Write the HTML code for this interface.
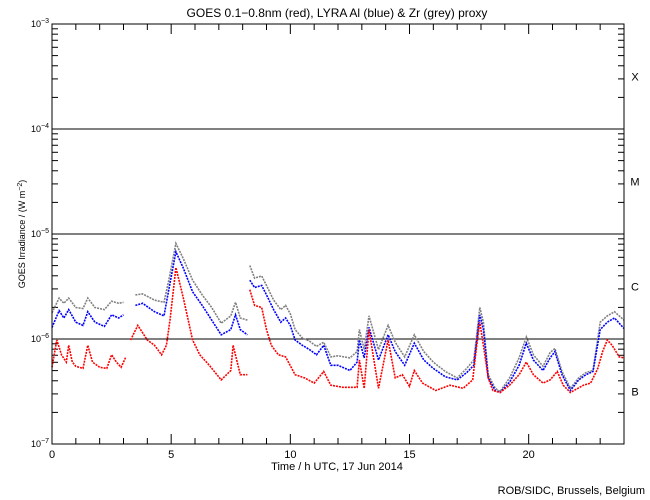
<!DOCTYPE html>
<html><head><meta charset="utf-8"><style>
body{margin:0;background:#fff}
svg{display:block;font-family:"Liberation Sans",sans-serif}
</style></head><body>
<svg id="chart" width="650" height="500" viewBox="0 0 650 500">
<rect width="650" height="500" fill="#fff"/>
<text x="337" y="17" font-size="12" text-anchor="middle">GOES 0.1−0.8nm (red), LYRA Al (blue) &amp; Zr (grey) proxy</text>
<text x="337" y="470" font-size="11" text-anchor="middle">Time / h UTC, 17 Jun 2014</text>
<text transform="translate(25,234) rotate(-90)" font-size="9" text-anchor="middle">GOES Irradiance / (W m<tspan dy="-3" font-size="7">−2</tspan><tspan dy="3">)</tspan></text>
<text x="645" y="494" font-size="11" text-anchor="end">ROB/SIDC, Brussels, Belgium</text>
<g id="axes"></g>
<g id="series"></g>
<rect x="52" y="24" width="572" height="420" fill="none" stroke="#000" stroke-width="1"/>
</svg>
<script>
const xTicks=[0,5,10,15,20];
const yDecades=[-7,-6,-5,-4,-3];
const classLabels=["B","C","M","X"];
const classPos=[-6.5,-5.5,-4.5,-3.5];
const tBG=[0,0.3,0.5,0.7,1.0,1.3,1.5,1.8,2.2,2.5,2.8,3.0,null,3.5,3.8,4.3,4.7,4.9,5.2,5.5,5.9,6.3,6.7,7.1,7.5,7.7,7.9,8.2,null,8.3,8.5,8.8,9.0,9.3,9.6,9.8,10.0,10.2,10.5,10.8,11.1,11.4,11.7,12.0,12.5,12.8,12.9,13.1,13.3,13.7,14.1,14.4,14.8,15.2,15.6,16.0,16.5,17.0,17.4,17.7,17.95,18.1,18.3,18.6,18.8,19.2,19.6,19.9,20.2,20.6,20.9,21.1,21.4,21.75,22.1,22.4,22.7,23.0,23.3,23.6,24.0];
const blueLog=[-5.89,-5.73,-5.80,-5.72,-5.84,-5.87,-5.74,-5.84,-5.88,-5.77,-5.80,-5.77,null,-5.68,-5.66,-5.74,-5.78,-5.53,-5.17,-5.32,-5.55,-5.68,-5.82,-5.96,-5.91,-5.77,-5.91,-5.96,null,-5.44,-5.51,-5.49,-5.58,-5.72,-5.84,-5.80,-5.87,-6.01,-6.06,-6.10,-6.15,-6.06,-6.25,-6.25,-6.30,-6.22,-6.01,-6.18,-5.89,-6.20,-5.96,-6.12,-6.25,-6.04,-6.20,-6.28,-6.36,-6.39,-6.32,-6.25,-5.77,-5.91,-6.37,-6.49,-6.51,-6.41,-6.25,-6.04,-6.20,-6.30,-6.18,-6.12,-6.34,-6.49,-6.39,-6.34,-6.31,-5.91,-5.84,-5.80,-5.90];
const greyLog=[-5.75,-5.61,-5.66,-5.61,-5.70,-5.71,-5.61,-5.70,-5.72,-5.64,-5.66,-5.65,null,-5.58,-5.57,-5.63,-5.65,-5.44,-5.09,-5.23,-5.44,-5.58,-5.70,-5.85,-5.78,-5.65,-5.80,-5.82,null,-5.30,-5.42,-5.40,-5.49,-5.63,-5.72,-5.68,-5.76,-5.91,-5.99,-6.02,-6.07,-6.03,-6.17,-6.16,-6.18,-6.12,-5.91,-6.10,-5.78,-6.10,-5.87,-6.03,-6.17,-5.96,-6.12,-6.22,-6.31,-6.37,-6.28,-6.20,-5.70,-5.84,-6.34,-6.47,-6.50,-6.37,-6.18,-5.98,-6.15,-6.26,-6.13,-6.09,-6.31,-6.47,-6.37,-6.32,-6.30,-5.84,-5.78,-5.74,-5.82];
const tRed=[0,0.2,0.4,0.6,0.7,0.85,1.0,1.3,1.5,1.7,2.0,2.3,2.5,2.7,2.9,3.1,null,3.3,3.6,4.0,4.3,4.6,4.8,4.95,5.2,5.5,5.9,6.2,6.6,7.1,7.5,7.6,7.9,8.2,null,8.3,8.5,8.8,9.0,9.2,9.5,9.8,10.2,10.6,11.0,11.4,11.7,12.2,12.8,12.9,13.1,13.3,13.7,14.1,14.4,14.7,15.0,15.2,15.55,16.1,16.7,17.25,17.65,17.8,17.95,18.1,18.3,18.5,18.8,19.2,19.6,19.9,20.2,20.6,20.9,21.2,21.45,21.75,22.3,22.6,22.9,23.1,23.3,23.5,23.8,24.0];
const redLog=[-6.27,-6.01,-6.15,-6.22,-6.06,-6.22,-6.26,-6.28,-6.06,-6.22,-6.27,-6.28,-6.15,-6.22,-6.27,-6.17,null,-6.01,-5.87,-6.01,-6.06,-6.15,-6.06,-5.82,-5.32,-5.60,-6.01,-6.15,-6.25,-6.39,-6.30,-6.06,-6.34,-6.34,null,-5.53,-5.68,-5.70,-5.91,-6.06,-6.15,-6.17,-6.34,-6.37,-6.42,-6.31,-6.44,-6.46,-6.46,-6.20,-6.47,-5.91,-6.47,-6.01,-6.37,-6.34,-6.45,-6.30,-6.42,-6.49,-6.44,-6.47,-6.39,-6.10,-5.84,-6.06,-6.37,-6.49,-6.51,-6.44,-6.34,-6.22,-6.34,-6.42,-6.39,-6.31,-6.44,-6.51,-6.44,-6.42,-6.28,-6.12,-6.01,-6.06,-6.17,-6.18];

const X0=52,X1=624,Y0=24,Y1=444;
const xs=t=>X0+(t/24)*(X1-X0);
const ys=l=>Y1-((l+7)/4)*(Y1-Y0);
const NS="http://www.w3.org/2000/svg";
const axes=document.getElementById('axes');
function mk(tag,attrs,parent){const e=document.createElementNS(NS,tag);for(const k in attrs)e.setAttribute(k,attrs[k]);parent.appendChild(e);return e;}
// x ticks
for(let h=0;h<=24;h++){
  const maj=xTicks.includes(h), len=maj?10:6, x=xs(h);
  const a=mk('line',{x1:x,x2:x,y1:Y1,y2:Y1-len,stroke:'#000'},axes);
  
  
  const b=mk('line',{x1:x,x2:x,y1:Y0,y2:Y0+len,stroke:'#000'},axes);
  
  
}
xTicks.forEach(h=>{
  const t=mk('text',{x:xs(h),y:458,'font-size':11,'text-anchor':'middle'},axes);
  t.textContent=h;
  
  
});
// y ticks
yDecades.forEach((d,i)=>{
  const y=ys(d);
  if(d>-7&&d<-3){
    const g=mk('line',{x1:X0,x2:X1,y1:y,y2:y,stroke:'#000'},axes);
    
    
  }
  const t=mk('text',{x:49,y:y+3,'font-size':9,'text-anchor':'end'},axes);
  t.innerHTML='10<tspan dy="-4" font-size="7">−'+(-d)+'</tspan>';
  
  
  if(i<yDecades.length-1){
    for(let m=2;m<=9;m++){
      const yy=ys(d+Math.log10(m));
      const a=mk('line',{x1:X0,x2:X0+6,y1:yy,y2:yy,stroke:'#000'},axes);
      
      
      const b=mk('line',{x1:X1,x2:X1-6,y1:yy,y2:yy,stroke:'#000'},axes);
      
      
    }
  }
});
classLabels.forEach((c,i)=>{
  const t=mk('text',{x:635,y:ys(classPos[i])+4,'font-size':11,'text-anchor':'middle'},axes);
  t.textContent=c;
  
  
});
// series
const ser=document.getElementById('series');
function draw(ts,vals,color,name){
  let segs=[],cur=[];
  for(let i=0;i<ts.length;i++){
    if(ts[i]===null||vals[i]===null){if(cur.length)segs.push(cur);cur=[];continue;}
    cur.push(xs(ts[i]).toFixed(1)+','+ys(vals[i]).toFixed(1));
  }
  if(cur.length)segs.push(cur);
  segs.forEach(s=>{
    const p=mk('polyline',{points:s.join(' '),fill:'none',stroke:color,'stroke-width':1.6,'stroke-dasharray':'2 1'},ser);
    
    
  });
}
draw(tBG,greyLog,'#808080','zr-grey-series');
draw(tBG,blueLog,'#0000ff','al-blue-series');
draw(tRed,redLog,'#ff0000','goes-red-series');
</script>
</body></html>
